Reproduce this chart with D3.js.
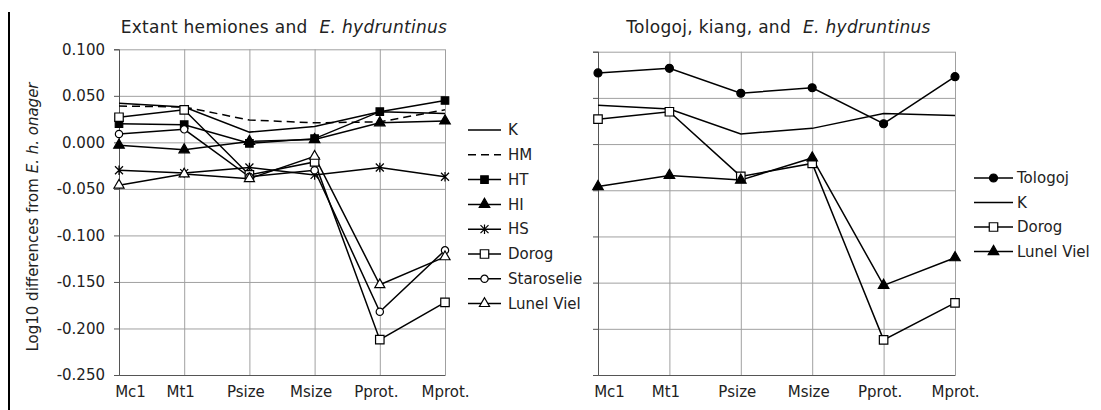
<!DOCTYPE html>
<html>
<head>
<meta charset="utf-8">
<script src="https://cdn.jsdelivr.net/npm/d3@7"></script>
<style>
	body { margin: 0; background: #fff; }
	svg { display: block; font-family: "DejaVu Sans", sans-serif; }
</style>
</head>
<body>
<div id="chart"></div>
<script>
/* data */
const categories = ["Mc1", "Mt1", "Psize", "Msize", "Pprot.", "Mprot."];
const yTicks = [0.1, 0.05, 0, -0.05, -0.1, -0.15, -0.2, -0.25];

const K          = [0.042, 0.038, 0.011, 0.017, 0.033, 0.031];
const HM         = [0.039, 0.038, 0.024, 0.021, 0.022, 0.035];
const HT         = [0.020, 0.019, -0.001, 0.004, 0.033, 0.045];
const HI         = [-0.003, -0.008, 0.001, 0.003, 0.021, 0.023];
const HS         = [-0.030, -0.033, -0.027, -0.035, -0.027, -0.037];
const Dorog      = [0.027, 0.035, -0.035, -0.021, -0.212, -0.172];
const Staroselie = [0.009, 0.014, -0.037, -0.030, -0.182, -0.116];
const LunelViel  = [-0.046, -0.034, -0.039, -0.015, -0.153, -0.123];
const Tologoj    = [0.077, 0.082, 0.055, 0.061, 0.022, 0.073];

const W = 1101, H = 410;

const svg = d3.select("#chart").append("svg")
	.attr("width", W)
	.attr("height", H);

const fmt = d3.formatLocale({decimal: ".", thousands: ",", grouping: [3], currency: ["", ""], minus: "-"}).format(".3f");

/* marker shapes */
const asterisk = {
	draw(ctx, size) {
		const r = Math.sqrt(size) / 2;
		ctx.moveTo(-r, -r); ctx.lineTo(r, r);
		ctx.moveTo(-r, r); ctx.lineTo(r, -r);
		ctx.moveTo(0, -r * 1.2); ctx.lineTo(0, r * 1.2);
	}
};
const markers = {
	none: null,
	sqFill: {type: d3.symbolSquare, size: 56, fill: "#000"},
	sqOpen: {type: d3.symbolSquare, size: 72, fill: "#fff"},
	triFill: {type: d3.symbolTriangle, size: 48, fill: "#000"},
	triOpen: {type: d3.symbolTriangle, size: 44, fill: "#fff"},
	circOpen: {type: d3.symbolCircle, size: 42, fill: "#fff"},
	circFill: {type: d3.symbolCircle, size: 50, fill: "#000"},
	star: {type: asterisk, size: 64, fill: "none"}
};

function drawPanel(p) {
	const x = d3.scalePoint(categories, p.xRange);
	const y = d3.scaleLinear([-0.25, 0.1], p.yRange);
	const g = svg.append("g");
	const left = p.xRange[0], right = p.xRange[1];
	const top = p.yRange[1], bottom = p.yRange[0];

	/* grid */
	g.append("g")
		.attr("transform", `translate(${left},0)`)
		.call(d3.axisLeft(y).tickValues(yTicks).tickSize(-(right - left)).tickFormat(""))
		.call(s => s.select(".domain").remove())
		.call(s => s.selectAll("line").attr("stroke", "#a0a0a0"));
	g.append("g")
		.attr("transform", `translate(0,${bottom})`)
		.call(d3.axisBottom(x).tickSize(-(bottom - top)).tickFormat(""))
		.call(s => s.select(".domain").remove())
		.call(s => s.selectAll("line").attr("stroke", "#a0a0a0"));

	/* axes */
	const yAxis = g.append("g")
		.attr("transform", `translate(${left},0)`)
		.call(d3.axisLeft(y).tickValues(yTicks).tickSize(5).tickPadding(9)
			.tickFormat(p.yLabels ? fmt : ""));
	yAxis.select(".domain").attr("stroke", "#555");
	yAxis.selectAll("line").attr("stroke", "#555");
	yAxis.selectAll("text").attr("font-size", 15).attr("fill", "#222")
		.attr("font-family", "DejaVu Sans");

	const xAxis = g.append("g")
		.attr("transform", `translate(0,${bottom})`)
		.call(d3.axisBottom(x).tickSizeInner(0).tickSizeOuter(0).tickPadding(11));
	xAxis.select(".domain").attr("stroke", "#555");
	xAxis.selectAll("text").attr("font-size", 15).attr("fill", "#222")
		.attr("font-family", "DejaVu Sans")
		.attr("dx", (d, i) => i === 0 ? 11 : (i === categories.length - 1 ? 0 : -4));

	/* title */
	const title = g.append("text")
		.attr("x", (left + right) / 2 + 2)
		.attr("y", 33)
		.attr("text-anchor", "middle")
		.attr("font-size", 17)
		.attr("letter-spacing", 0.3)
		.attr("fill", "#222");
	title.append("tspan").text(p.title);
	title.append("tspan").attr("font-style", "italic").attr("dx", 12).text("E. hydruntinus");

	/* series */
	const line = d3.line().x((d, i) => x(categories[i])).y(d => y(d));
	p.series.forEach(s => {
		g.append("path")
			.datum(s.values)
			.attr("d", line)
			.attr("fill", "none")
			.attr("stroke", "#000")
			.attr("stroke-width", 1.5)
			.attr("stroke-dasharray", s.dash || null);
	});
	p.series.forEach(s => {
		const m = markers[s.marker];
		if (!m) return;
		g.selectAll(null)
			.data(s.values)
			.join("path")
			.attr("transform", (d, i) => `translate(${x(categories[i])},${y(d)})`)
			.attr("d", d3.symbol(m.type, m.size))
			.attr("fill", m.fill)
			.attr("stroke", "#000")
			.attr("stroke-width", 1.2);
	});

	/* legend */
	const leg = g.append("g");
	p.series.forEach((s, i) => {
		const ly = p.legend.y + i * p.legend.step;
		const item = leg.append("g").attr("transform", `translate(${p.legend.x},${ly})`);
		item.append("line")
			.attr("x1", 0).attr("x2", p.legend.len)
			.attr("stroke", "#000")
			.attr("stroke-width", 1.5)
			.attr("stroke-dasharray", s.dash || null);
		const m = markers[s.marker];
		if (m) {
			item.append("path")
				.attr("transform", `translate(${p.legend.len / 2},0)`)
				.attr("d", d3.symbol(m.type, m.size))
				.attr("fill", m.fill)
				.attr("stroke", "#000")
				.attr("stroke-width", 1.2);
		}
		item.append("text")
			.attr("x", p.legend.len + p.legend.gap)
			.attr("dy", "0.35em")
			.attr("font-size", 15)
			.attr("fill", "#222")
			.text(s.name);
	});
}

drawPanel({
	xRange: [119, 445],
	yRange: [375, 49.3],
	yLabels: true,
	title: "Extant hemiones and",
	series: [
		{name: "K", values: K, marker: "none"},
		{name: "HM", values: HM, marker: "none", dash: "8,5"},
		{name: "HT", values: HT, marker: "sqFill"},
		{name: "HI", values: HI, marker: "triFill"},
		{name: "HS", values: HS, marker: "star"},
		{name: "Dorog", values: Dorog, marker: "sqOpen"},
		{name: "Staroselie", values: Staroselie, marker: "circOpen"},
		{name: "Lunel Viel", values: LunelViel, marker: "triOpen"}
	],
	legend: {x: 468, y: 130, step: 24.8, len: 33, gap: 7}
});

drawPanel({
	xRange: [598, 955],
	yRange: [375, 51.7],
	yLabels: false,
	title: "Tologoj, kiang, and",
	series: [
		{name: "Tologoj", values: Tologoj, marker: "circFill"},
		{name: "K", values: K, marker: "none"},
		{name: "Dorog", values: Dorog, marker: "sqOpen"},
		{name: "Lunel Viel", values: LunelViel, marker: "triFill"}
	],
	legend: {x: 974, y: 178, step: 24.5, len: 39, gap: 4}
});

/* y axis title */
const yt = svg.append("text")
	.attr("transform", "translate(38,217) rotate(-90)")
	.attr("text-anchor", "middle")
	.attr("font-size", 15)
	.attr("fill", "#222");
yt.append("tspan").text("Log10 differences from ");
yt.append("tspan").attr("font-style", "italic").text("E. h. onager");

/* figure border on the left */
svg.append("line")
	.attr("x1", 9).attr("x2", 9)
	.attr("y1", 12).attr("y2", H)
	.attr("stroke", "#000")
	.attr("stroke-width", 2);
</script>
</body>
</html>
